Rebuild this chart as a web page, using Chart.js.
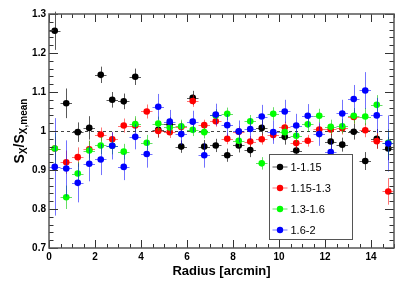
<!DOCTYPE html>
<html>
<head>
<meta charset="utf-8">
<script src="https://cdn.jsdelivr.net/npm/chart.js@4.4.1/dist/chart.umd.min.js"></script>
<style>
  html, body { margin: 0; padding: 0; background: #fff; }
</style>
</head>
<body>
<canvas id="grafico" width="415" height="283"></canvas>
<script>
// Datos
const radios = [0.25, 0.75, 1.25, 1.75, 2.25, 2.75, 3.25, 3.75, 4.25, 4.75,
                5.25, 5.75, 6.25, 6.75, 7.25, 7.75, 8.25, 8.75, 9.25, 9.75,
                10.25, 10.75, 11.25, 11.75, 12.25, 12.75, 13.25, 13.75, 14.25, 14.75];
const errorRadio = 0.25;

const etiquetas = ['1-1.15', '1.15-1.3', '1.3-1.6', '1.6-2'];

const negro = [1.257, 1.071, 0.997, 1.008, 1.144, 1.080, 1.076, 1.139, null, 1.003,
               1.017, 0.960, 1.085, 0.960, 0.963, 0.938, 0.963, 0.951, 1.008, null,
               0.985, 0.950, null, null, 0.973, 0.965, 0.998, 0.923, 0.980, 0.955];
const negroErr = [0.049, 0.038, 0.025, 0.03, 0.021, 0.02, 0.02, 0.021, null, 0.02,
                  0.018, 0.016, 0.018, 0.017, 0.017, 0.017, 0.018, 0.018, 0.02, null,
                  0.02, 0.02, null, null, 0.02, 0.018, 0.02, 0.023, 0.025, 0.03];

const rojo = [0.955, 0.920, 0.933, 0.953, 0.991, 0.979, 1.014, 1.014, 1.050, 1.000,
              0.997, 1.010, 1.077, 1.015, 1.025, 0.980, 0.998, 0.973, 0.979, 0.990,
              1.009, 0.969, 0.975, 1.004, 1.004, 1.007, 1.036, 1.002, 0.974, 0.845];
const rojoErr = [0.03, 0.03, 0.025, 0.022, 0.018, 0.018, 0.018, 0.018, 0.018, 0.016,
                 0.015, 0.015, 0.015, 0.014, 0.014, 0.014, 0.014, 0.014, 0.014, 0.014,
                 0.015, 0.015, 0.015, 0.015, 0.015, 0.016, 0.018, 0.018, 0.02, 0.034];

const verde = [0.955, 0.830, 0.891, 0.950, 0.963, 0.962, 0.947, 1.018, 0.970, 1.019,
               1.009, 1.012, 1.003, 0.997, 1.040, 1.044, 0.975, 1.025, 0.917, 1.044,
               0.997, 0.988, 1.017, 1.039, 1.011, 1.012, 1.039, 1.037, 1.067, 0.970];
const verdeErr = [0.04, 0.03, 0.03, 0.025, 0.022, 0.022, 0.02, 0.02, 0.02, 0.018,
                  0.018, 0.017, 0.016, 0.016, 0.016, 0.016, 0.016, 0.016, 0.016, 0.017,
                  0.017, 0.017, 0.018, 0.018, 0.018, 0.018, 0.02, 0.022, 0.025, 0.035];

const azul = [0.908, 0.904, 0.867, 0.916, 0.927, 0.962, 0.908, 0.985, 0.941, 1.062,
              1.024, 0.992, 1.024, 0.938, 1.042, 1.015, 0.999, 1.005, 1.037, 0.997,
              1.050, 1.014, 1.039, 0.992, 0.946, 1.045, 1.082, 1.104, 1.040, 0.968];
const azulErr = [0.125, 0.072, 0.05, 0.045, 0.04, 0.035, 0.034, 0.032, 0.035, 0.033,
                 0.03, 0.028, 0.028, 0.032, 0.028, 0.028, 0.028, 0.028, 0.03, 0.03,
                 0.03, 0.03, 0.03, 0.03, 0.03, 0.035, 0.036, 0.047, 0.045, 0.072];

const ticksX = [0, 2, 4, 6, 8, 10, 12, 14];
const ticksY = [0.7, 0.8, 0.9, 1.0, 1.1, 1.2, 1.3];
const etiquetasY = ['0.7', '0.8', '0.9', '1', '1.1', '1.2', '1.3'];

const colores = ['#000000', '#ff0000', '#00ff00', '#0000ff'];
const coloresError = ['rgba(0,0,0,0.65)', 'rgba(255,0,0,0.55)', 'rgba(0,200,0,0.6)', 'rgba(0,0,255,0.55)'];

const series = [negro, rojo, verde, azul];
const errores = [negroErr, rojoErr, verdeErr, azulErr];

function armarPuntos(valores, errs) {
    const puntos = [];
    radios.forEach((r, i) => {
        if (valores[i] !== null) puntos.push({ x: r, y: valores[i], ey: errs[i] });
    });
    return puntos;
}

const fuente = '"Liberation Sans", Arial, sans-serif';

const pluginMarco = {
    id: 'marco',
    beforeDatasetsDraw(chart) {
        // línea punteada en y = 1
        const ctx = chart.ctx;
        const x = chart.scales.x, y = chart.scales.y;
        ctx.save();
        ctx.strokeStyle = '#444';
        ctx.lineWidth = 1;
        ctx.setLineDash([3, 3]);
        ctx.beginPath();
        const py = Math.round(y.getPixelForValue(1)) + 0.5;
        ctx.moveTo(x.getPixelForValue(0), py);
        ctx.lineTo(x.getPixelForValue(15), py);
        ctx.stroke();
        ctx.restore();
    },
    beforeDatasetDraw(chart, args) {
        // barras de error de cada serie
        const ctx = chart.ctx;
        const x = chart.scales.x, y = chart.scales.y;
        const ds = chart.data.datasets[args.index];
        ctx.save();
        ctx.strokeStyle = coloresError[args.index];
        ctx.lineWidth = 1;
        ds.data.forEach(p => {
            const cx = Math.round(x.getPixelForValue(p.x)) + 0.5;
            const cy = Math.round(y.getPixelForValue(p.y)) + 0.5;
            ctx.beginPath();
            ctx.moveTo(x.getPixelForValue(p.x - errorRadio), cy);
            ctx.lineTo(x.getPixelForValue(p.x + errorRadio), cy);
            ctx.moveTo(cx, y.getPixelForValue(p.y - p.ey));
            ctx.lineTo(cx, y.getPixelForValue(p.y + p.ey));
            ctx.stroke();
        });
        ctx.restore();
    },
    afterDatasetsDraw(chart) {
        const ctx = chart.ctx;
        const a = chart.chartArea;
        const x = chart.scales.x, y = chart.scales.y;
        ctx.save();

        // marcas de los ejes (hacia adentro, en los cuatro lados)
        ctx.strokeStyle = '#333';
        ctx.lineWidth = 1;
        ctx.beginPath();
        for (let k = 0; k <= 30; k++) {
            const v = k * 0.5;
            const px = Math.round(x.getPixelForValue(v)) + 0.5;
            const largo = (k % 4 === 0) ? 8 : 4;
            ctx.moveTo(px, a.bottom); ctx.lineTo(px, a.bottom - largo);
            ctx.moveTo(px, a.top); ctx.lineTo(px, a.top + largo);
        }
        for (let k = 0; k <= 30; k++) {
            const v = 0.7 + k * 0.02;
            const py = Math.round(y.getPixelForValue(v)) + 0.5;
            const largo = (k % 5 === 0) ? 9 : 4.5;
            ctx.moveTo(a.left, py); ctx.lineTo(a.left + largo, py);
            ctx.moveTo(a.right, py); ctx.lineTo(a.right - largo, py);
        }
        ctx.stroke();

        // marco
        ctx.strokeStyle = '#555';
        ctx.lineWidth = 1.5;
        ctx.strokeRect(a.left, a.top, a.right - a.left, a.bottom - a.top);

        // título eje X
        ctx.fillStyle = '#000';
        ctx.font = 'bold 13px ' + fuente;
        ctx.textAlign = 'center';
        ctx.textBaseline = 'alphabetic';
        ctx.fillText('Radius [arcmin]', (a.left + a.right) / 2, 275);

        // título eje Y con subíndices
        const partes = [
            { t: 'S', f: 'bold 14px ', dy: 0 },
            { t: 'X', f: 'bold 10px ', dy: 3 },
            { t: '/S', f: 'bold 14px ', dy: 0 },
            { t: 'X,mean', f: 'bold 10px ', dy: 3 }
        ];
        let total = 0;
        partes.forEach(p => { ctx.font = p.f + fuente; p.w = ctx.measureText(p.t).width; total += p.w; });
        ctx.translate(24, (a.top + a.bottom) / 2);
        ctx.rotate(-Math.PI / 2);
        ctx.textAlign = 'left';
        let pos = -total / 2;
        partes.forEach(p => {
            ctx.font = p.f + fuente;
            ctx.fillText(p.t, pos, p.dy);
            pos += p.w;
        });
        ctx.restore();

        // leyenda
        ctx.save();
        const lx = 269.5, ly = 154.5, lw = 83, lh = 85;
        ctx.fillStyle = '#fff';
        ctx.fillRect(lx, ly, lw, lh);
        ctx.strokeStyle = '#555';
        ctx.lineWidth = 1;
        ctx.strokeRect(lx, ly, lw, lh);
        etiquetas.forEach((txt, i) => {
            const ey = ly + 12.5 + i * 21;
            ctx.strokeStyle = coloresError[i];
            ctx.beginPath();
            ctx.moveTo(lx + 3, ey); ctx.lineTo(lx + 18, ey);
            ctx.stroke();
            ctx.fillStyle = colores[i];
            ctx.beginPath();
            ctx.arc(lx + 10.5, ey, 3.2, 0, Math.PI * 2);
            ctx.fill();
            ctx.fillStyle = '#000';
            ctx.font = '11px ' + fuente;
            ctx.textAlign = 'left';
            ctx.textBaseline = 'middle';
            ctx.fillText(txt, lx + 21, ey + 1);
        });
        ctx.restore();
    }
};

const conjuntos = series.map((s, i) => ({
    label: etiquetas[i],
    data: armarPuntos(s, errores[i]),
    backgroundColor: colores[i],
    borderColor: colores[i],
    pointRadius: 3.3,
    pointBorderWidth: 0,
    pointHoverRadius: 3.3,
    showLine: false,
    order: 4 - i
}));

const ctx = document.getElementById('grafico').getContext('2d');
new Chart(ctx, {
    type: 'scatter',
    data: { datasets: conjuntos },
    options: {
        responsive: false,
        animation: false,
        events: [],
        layout: { padding: { top: 14, right: 21, left: 0, bottom: 0 } },
        plugins: {
            legend: { display: false },
            tooltip: { enabled: false }
        },
        scales: {
            x: {
                type: 'linear',
                min: 0,
                max: 15,
                grid: { display: false, drawTicks: false },
                border: { display: false },
                afterBuildTicks: s => { s.ticks = ticksX.map(v => ({ value: v })); },
                afterFit: s => { s.height = 35; },
                ticks: {
                    padding: 3,
                    color: '#000',
                    maxRotation: 0,
                    font: { family: fuente, size: 10, weight: 'bold' },
                    callback: v => String(v)
                }
            },
            y: {
                type: 'linear',
                min: 0.7,
                max: 1.3,
                grid: { display: false, drawTicks: false },
                border: { display: false },
                afterBuildTicks: s => { s.ticks = ticksY.map(v => ({ value: v })); },
                afterFit: s => { s.width = 49; },
                ticks: {
                    padding: 3,
                    color: '#000',
                    font: { family: fuente, size: 10, weight: 'bold' },
                    callback: (v, i) => etiquetasY[i]
                }
            }
        }
    },
    plugins: [pluginMarco]
});
</script>
</body>
</html>
